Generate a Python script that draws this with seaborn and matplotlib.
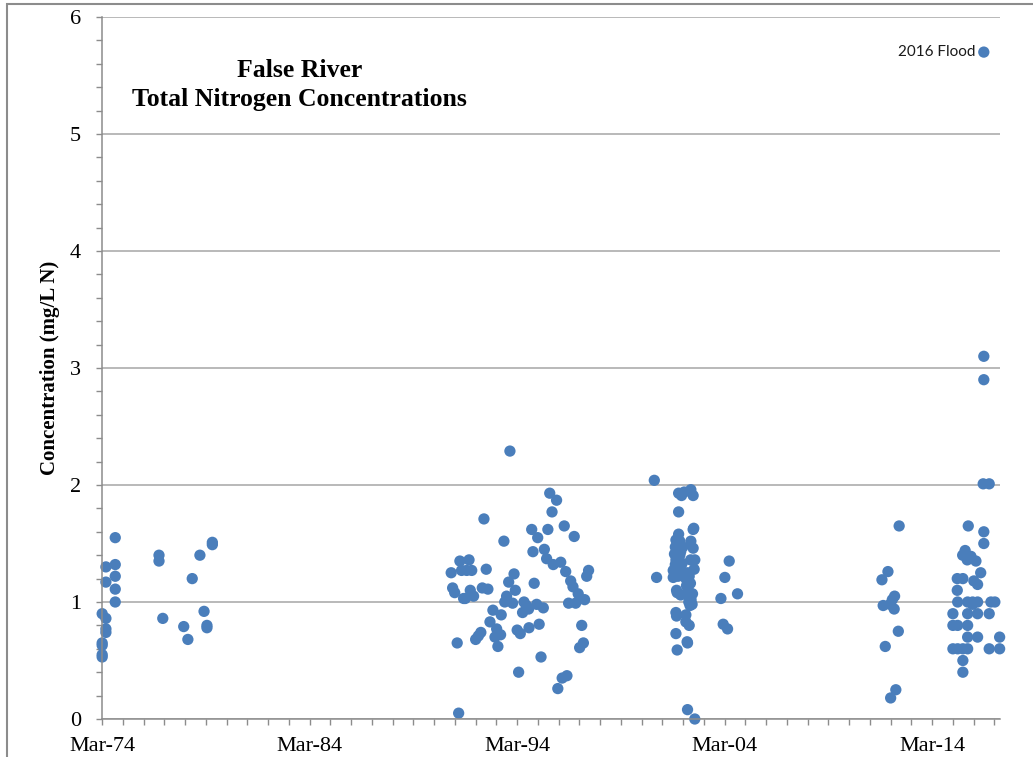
import matplotlib
matplotlib.use('Agg')
import matplotlib.pyplot as plt
import matplotlib.dates as mdates
from matplotlib.patches import Rectangle
import seaborn as sns
import pandas as pd
import numpy as np

# sample dates (decimal years) and total nitrogen (mg/L N)
years_70s = [1974.17, 1974.35, 1974.35, 1974.35, 1974.17, 1974.17, 1974.17, 1974.17,
             1974.35, 1974.35, 1974.80, 1974.80, 1974.80, 1974.80, 1974.80,
             1976.91, 1976.91, 1977.09, 1978.10, 1978.30, 1978.51, 1978.88,
             1979.08, 1979.22, 1979.22, 1979.48, 1979.48]
tn_70s = [0.90, 0.86, 0.77, 0.74, 0.65, 0.63, 0.55, 0.53,
          1.30, 1.17, 1.55, 1.32, 1.22, 1.11, 1.00,
          1.40, 1.35, 0.86, 0.79, 0.68, 1.20, 1.40,
          0.92, 0.80, 0.78, 1.51, 1.49]

years_90s = [1993.82, 1995.74, 1996.07, 1995.85, 1992.57, 1994.87, 1995.65, 1996.44,
             1995.16, 1996.92, 1993.53, 1995.48, 1994.93, 1995.59, 1995.91, 1996.27,
             1996.51, 1990.99, 1991.41, 1991.85, 1991.49, 1991.74, 1991.98, 1992.68,
             1994.02, 1993.76, 1994.99, 1996.75, 1996.86, 1997.61, 1997.52, 1991.06,
             1991.16, 1991.59, 1991.67, 1991.91, 1992.07, 1992.49, 1992.76, 1993.66,
             1994.08, 1993.57, 1993.95, 1994.50, 1994.61, 1994.43, 1994.72, 1995.11,
             1995.43, 1996.65, 1996.99, 1997.11, 1997.42, 1993.00, 1993.40, 1992.86,
             1993.18, 1993.37, 1993.10, 1993.24, 1992.42, 1992.30, 1992.17, 1994.17,
             1994.32, 1994.74, 1995.23, 1997.28, 1997.36, 1997.18, 1991.28, 1995.32,
             1994.24, 1996.13, 1996.34, 1996.57, 1991.35]
tn_90s = [2.29, 1.93, 1.87, 1.77, 1.71, 1.62, 1.62, 1.65,
          1.55, 1.56, 1.52, 1.45, 1.43, 1.37, 1.32, 1.34,
          1.26, 1.25, 1.35, 1.36, 1.27, 1.27, 1.27, 1.28,
          1.24, 1.17, 1.16, 1.18, 1.13, 1.27, 1.22, 1.12,
          1.08, 1.03, 1.03, 1.10, 1.05, 1.12, 1.11, 1.05,
          1.10, 1.00, 0.99, 1.00, 0.97, 0.91, 0.94, 0.98,
          0.95, 0.99, 0.99, 1.07, 1.02, 0.93, 0.89, 0.83,
          0.77, 0.72, 0.70, 0.62, 0.74, 0.71, 0.68, 0.76,
          0.73, 0.78, 0.81, 0.80, 0.65, 0.61, 0.65, 0.53,
          0.40, 0.26, 0.35, 0.37, 0.05]

years_00s = [2000.78, 2000.89, 2001.95, 2002.09, 2002.22, 2002.54, 2002.65, 2001.95,
             2002.65, 2002.68, 2001.95, 2002.54, 2002.65, 2002.53, 2002.73, 2002.70,
             2001.69, 2001.82, 2002.01, 2002.15, 2001.79, 2001.92, 2002.05, 2001.75,
             2001.88, 2002.01, 2001.82, 2001.95, 2002.12, 2001.79, 2002.05, 2001.69,
             2001.88, 2001.75, 2001.92, 2001.85, 2001.88, 2002.05,
             2002.38, 2002.46, 2002.30, 2002.43, 2002.52, 2002.33, 2002.40, 2002.62,
             2002.48, 2002.55, 2002.44, 2002.60, 2002.50,
             2001.82, 2001.85, 2002.30, 2002.30, 2002.46, 2001.82, 2002.38, 2002.36,
             2001.88, 2002.38, 2002.73,
             2004.39, 2004.18, 2003.99, 2004.79, 2004.10, 2004.31]
tn_00s = [2.04, 1.21, 1.93, 1.91, 1.94, 1.96, 1.91, 1.77,
          1.62, 1.63, 1.58, 1.52, 1.46, 1.36, 1.36, 1.28,
          1.21, 1.53, 1.52, 1.47, 1.47, 1.45, 1.43, 1.41,
          1.41, 1.40, 1.36, 1.35, 1.33, 1.32, 1.30, 1.27,
          1.26, 1.24, 1.22, 1.10, 1.08, 1.06,
          1.25, 1.22, 1.20, 1.18, 1.16, 1.14, 1.11, 1.07,
          1.04, 1.02, 1.00, 0.98, 0.97,
          0.91, 0.88, 0.89, 0.83, 0.80, 0.73, 0.65, 0.66,
          0.59, 0.08, 0.00,
          1.35, 1.21, 1.03, 1.07, 0.81, 0.77]

years_10s = [2016.66, 2016.66, 2016.63, 2016.92, 2012.58, 2015.91, 2016.66, 2016.66,
             2015.76, 2015.64, 2015.86, 2016.04, 2016.28, 2012.04, 2011.75, 2015.38,
             2015.65, 2016.51, 2016.18, 2016.36, 2015.38, 2012.36, 2012.25, 2011.81,
             2012.14, 2012.34, 2015.40, 2015.88, 2016.12, 2016.36, 2017.00, 2017.19,
             2016.12, 2015.17, 2015.88, 2016.36, 2016.92, 2012.54, 2015.17, 2015.40,
             2015.88, 2015.88, 2016.36, 2017.42, 2011.91, 2015.17, 2015.40, 2015.65,
             2015.88, 2016.92, 2017.42, 2015.65, 2015.65, 2012.42, 2012.17]
tn_10s = [3.10, 2.90, 2.01, 2.01, 1.65, 1.65, 1.60, 1.50,
          1.44, 1.40, 1.36, 1.39, 1.35, 1.26, 1.19, 1.20,
          1.20, 1.25, 1.18, 1.15, 1.10, 1.05, 1.02, 0.97,
          0.98, 0.94, 1.00, 1.00, 1.00, 1.00, 1.00, 1.00,
          0.98, 0.90, 0.90, 0.90, 0.90, 0.75, 0.80, 0.80,
          0.80, 0.70, 0.70, 0.70, 0.62, 0.60, 0.60, 0.60,
          0.60, 0.60, 0.60, 0.50, 0.40, 0.25, 0.18]

flood_year = 2016.66
flood_tn = 5.70
flood_label = "2016 Flood"

major_tick_years = [1974, 1984, 1994, 2004, 2014]
title_text = "False River\nTotal Nitrogen Concentrations"
y_label = "Concentration (mg/L N)"


def to_dates(dec_years):
    out = []
    for y in dec_years:
        yr = int(y)
        out.append(pd.Timestamp(yr, 1, 1) + pd.Timedelta(days=(y - yr) * 365.25))
    return out


df = pd.DataFrame({
    "date": to_dates(years_70s + years_90s + years_00s + years_10s),
    "tn": tn_70s + tn_90s + tn_00s + tn_10s,
})

sns.set_theme(style="ticks")
plt.rcParams['font.family'] = ['Liberation Serif', 'DejaVu Serif']

dot = "#4A7EBB"
axis_grey = "#8C8C8C"

fig = plt.figure(figsize=(10.33, 7.57), dpi=100)
ax = fig.add_axes([102 / 1033, 38 / 757, 898 / 1033, 702 / 757])

sns.scatterplot(data=df, x="date", y="tn", ax=ax, color=dot, s=66,
                edgecolor="none", clip_on=False, legend=False)
ax.scatter(to_dates([flood_year]), [flood_tn], color=dot, s=66, edgecolor="none")
ax.text(to_dates([flood_year - 0.42])[0], flood_tn, flood_label, family="Lato",
        fontsize=11, ha="right", va="center", color="#1a1a1a")

ax.set_ylim(0, 6)
ax.set_xlim(pd.Timestamp(1974, 3, 1), pd.Timestamp(2017, 6, 10))
ax.set_yticks(np.arange(0, 7, 1))
ax.set_yticks(np.arange(0, 6.01, 0.2), minor=True)
ax.set_xticks([pd.Timestamp(y, 3, 1) for y in major_tick_years])
ax.xaxis.set_minor_locator(mdates.YearLocator(1, month=3, day=1))
ax.xaxis.set_major_formatter(mdates.DateFormatter('%b-%y'))

ax.grid(axis="y", which="major", color="#A6A6A6", linewidth=1.1)
ax.set_axisbelow(True)
sns.despine(ax=ax)
for side in ["left", "bottom"]:
    ax.spines[side].set_color(axis_grey)
    ax.spines[side].set_linewidth(1.1)

ax.tick_params(axis="both", which="both", length=4, width=1, color=axis_grey,
               labelsize=16, labelcolor="black")
ax.tick_params(axis="y", which="major", pad=11)
ax.tick_params(axis="x", which="major", pad=9)

ax.set_xlabel("")
ax.set_ylabel(y_label, fontsize=15, fontweight="bold", labelpad=7, color="black")

ax.text(0.22, 0.94, title_text, transform=ax.transAxes, ha="center", va="top",
        fontsize=18.5, fontweight="bold", linespacing=1.35, color="black")

fig.patches.append(Rectangle((7 / 1033, -0.1), 1.2, 0.1 + 753 / 757,
                             transform=fig.transFigure, fill=False,
                             edgecolor=axis_grey, linewidth=1.5))

fig.savefig("out.png", dpi=100, facecolor="white")
plt.close(fig)
